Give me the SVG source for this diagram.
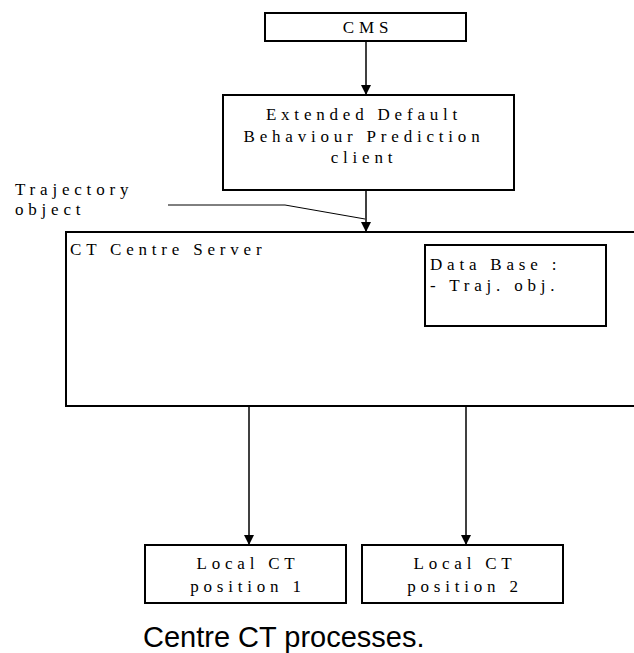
<svg xmlns="http://www.w3.org/2000/svg" width="634" height="653" viewBox="0 0 634 653">
<defs>
<style>
.box{fill:#fff;stroke:#000;stroke-width:2}
.t{font-size:17px;letter-spacing:4.8px;fill:#000}
.c{text-anchor:middle}
.conn{stroke:#000;stroke-width:1.5;fill:none}
</style>
<marker id="ah" viewBox="0 0 10 10" refX="10" refY="5" markerWidth="10" markerHeight="10" markerUnits="userSpaceOnUse" orient="auto">
<path d="M0,0 L10,5 L0,10 z" fill="#000"/>
</marker>
</defs>
<rect width="634" height="653" fill="#fff"/>
<g id="connectors">
<line class="conn" x1="366" y1="41" x2="366" y2="95" marker-end="url(#ah)"/>
<line class="conn" x1="366" y1="190" x2="366" y2="232" marker-end="url(#ah)"/>
<line class="conn" x1="249" y1="406" x2="249" y2="545" marker-end="url(#ah)"/>
<line class="conn" x1="466" y1="406" x2="466" y2="545" marker-end="url(#ah)"/>
<polyline points="168,205 285,205 365,219" fill="none" stroke="#000" stroke-width="1"/>
</g>
<g font-family="'Liberation Serif', 'DejaVu Serif', serif">
<g id="cms">
<rect class="box" x="265" y="13" width="201" height="28"/>
<text class="t c" x="368" y="33">CMS</text>
</g>
<g id="edbp">
<rect class="box" x="223" y="95" width="291" height="95"/>
<text class="t c" x="364" y="120">Extended Default</text>
<text class="t c" x="364" y="142">Behaviour Prediction</text>
<text class="t c" x="364" y="163">client</text>
</g>
<g id="traj-label">
<text class="t" x="15" y="195">Trajectory</text>
<text class="t" x="15" y="215">object</text>
</g>
<g id="server">
<rect class="box" x="66" y="232" width="580" height="174"/>
<text class="t" x="70" y="255">CT Centre Server</text>
</g>
<g id="database">
<rect class="box" x="425" y="245" width="181" height="81"/>
<text class="t" x="430" y="270">Data Base :</text>
<text class="t" x="430" y="291">- Traj. obj.</text>
</g>
<g id="local1">
<rect class="box" x="145" y="545" width="201" height="58"/>
<text class="t c" x="248" y="569">Local CT</text>
<text class="t c" x="248" y="592">position 1</text>
</g>
<g id="local2">
<rect class="box" x="362" y="545" width="201" height="58"/>
<text class="t c" x="465" y="569">Local CT</text>
<text class="t c" x="465" y="592">position 2</text>
</g>
</g>
<text x="143" y="647" font-family="'Liberation Sans',Arial,sans-serif" font-size="29" fill="#000">Centre CT processes.</text>
</svg>
